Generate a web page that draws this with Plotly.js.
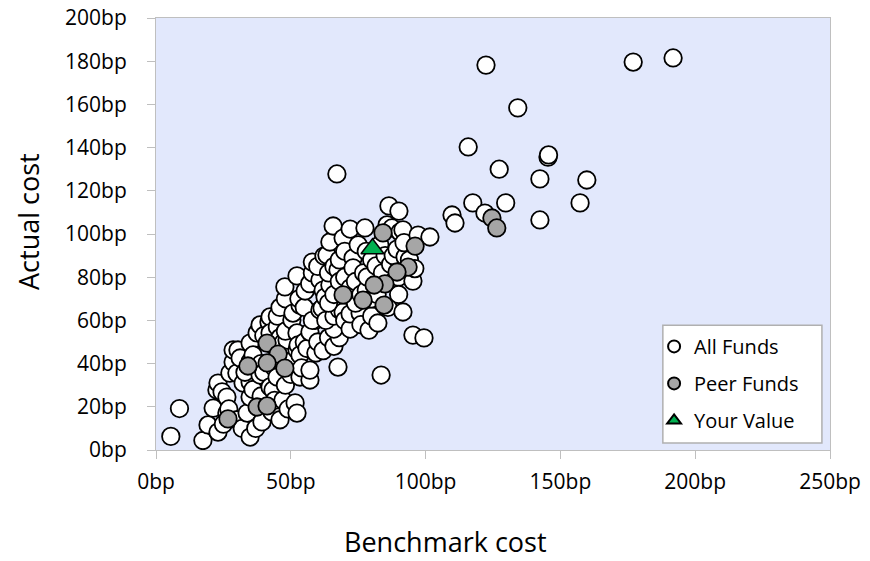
<!DOCTYPE html>
<html>
<head>
<meta charset="utf-8">
<script src="https://cdn.plot.ly/plotly-3.0.1.min.js"></script>
<style>html,body{margin:0;padding:0;background:#fff;}#chart{width:870px;height:561px;}</style>
</head>
<body>
<div id="chart"></div>
<script>
// All Funds (benchmark cost, actual cost) in bp
var allX = [5.5,8.7,17.4,19.3,21.2,23,22.6,23,24.5,26.3,26.3,25,27.4,27,28.6,28.6,30,30.4,31.2,32.3,30,32,33.8,34.9,34.9,34.9,34.9,33,35,36,36,37,37.5,38.6,38.6,39.3,39,39,40,40,41.9,42.3,42.3,42.3,43,43.4,44,44,44,44.9,45,45,46,46,46,46,47.1,47.1,48,48.6,48.6,48,48,49,49.7,50,50.4,50.8,51.6,51,52.3,52.3,52.3,52.7,53.4,53.4,53.4,53,54,55,55,56,57.1,57.1,57.1,59,58,59.3,60,60.8,61.6,62,64,66,67.5,68,66,63,66,68,69.4,70,72,72,75.7,76,79,80,82.3,86,91.6,95.3,99.4,83.5,
47.8,52.3,55.3,57,58,58,60.8,60,62,62.7,62.3,64,64.5,64,63.4,64.5,65.7,66,66,67.5,68,68,69.4,70,70,72,72,73.1,73.1,74,74,75,76,77,77.5,78,78,78.3,80,80,81.6,82,83,84,85,85.7,86.4,87.5,87,88,88,89.4,90,90,90.1,90.5,91.6,92.4,92,94,95.3,96,97.2,101.6,67.1,
109.8,110.9,117.5,122,129.7,142.4,157.3,142.4,159.8,127.3,145.4,145.6,115.8,134.2,122.4,177,191.8];
var allY = [6.3,19.2,4.4,11.6,19.4,8.3,27.8,31,26.9,24.5,17.1,12,35.6,19,40.7,46.3,35.6,46.3,42.6,31,14,10,17.1,24.5,31.5,49.5,6,36,41,44,28,10,54.2,34.7,57.9,13,25,40,53,36,59.3,29.2,61.6,54.2,17.6,27.8,23,38,48,33.8,57,62,14,42,52,66,23.1,49.5,30,44.9,50.9,55,70,19,40.3,35,60.2,63.4,21.8,42,17.1,46.3,54.2,48.6,33.8,44,67.1,70,38,50,66,47,32.4,37,54.6,60,60,44.9,50,64.8,65.7,46,52,48,38.4,52,56,60,62,65,63.9,60,56,63,63.4,58,55.5,62,58.8,66,63.9,53.2,51.9,34.7,
75.5,80.6,73.6,77,82,87,78.7,85,74,70.8,89.8,68,76.4,82,90.3,96.3,103.7,72,85,83.3,78,88,98.1,80,92,75,102.3,88.9,84.3,68,78,95,72,82,102.8,74,92,80.1,70,88,85.2,72,95,82,90,104.2,113,102.8,86,78,90,93,80,72,110.6,100.9,101.9,89.4,96,88,78.2,84,99.5,98.6,127.8,
108.8,105.1,114.4,109.7,114.4,106.5,114.4,125.5,125,130,135.6,136.6,140.3,158.4,178.2,179.6,181.5];

// Peer Funds
var peerX = [41.2,45.3,34.1,41.2,47.8,37.5,41.2,26.7,84.2,96.1,93.5,89.4,84.9,80.9,76.8,84.6,69.4,124.6,126.4];
var peerY = [49.5,44.4,38.9,40.3,37.9,19.9,20.4,14.4,100.5,94.4,84.7,82.4,76.9,76.4,69.4,67.1,71.8,107.4,102.8];

// Your Value
var yourX = [80.3];
var yourY = [93.2];

var xTicks = [0,50,100,150,200,250];
var yTicks = [0,20,40,60,80,100,120,140,160,180,200];
var xTitle = 'Benchmark cost';
var yTitle = 'Actual cost';

var FONT = 'Open Sans, sans-serif';

var traces = [
  {type:'scatter', mode:'markers', name:'All Funds', x:allX, y:allY, legendgroup:'a',
   marker:{symbol:'circle', size:17.5, color:'#FFFFFF', line:{color:'#000000', width:1.8}}},
  {type:'scatter', mode:'markers', name:'Peer Funds', x:peerX, y:peerY, legendgroup:'b',
   marker:{symbol:'circle', size:17.5, color:'#A6A6A6', line:{color:'#000000', width:1.8}}},
  {type:'scatter', mode:'markers', name:'Your Value', x:yourX, y:yourY, legendgroup:'c',
   marker:{symbol:'triangle-up', size:20, color:'#00B050', line:{color:'#000000', width:1.5}}}
];

var layout = {
  width:870, height:561,
  margin:{l:156, r:40, t:18, b:111, pad:0},
  paper_bgcolor:'#FFFFFF',
  plot_bgcolor:'#E2E8FC',
  font:{family:FONT, color:'#000000'},
  showlegend:true,
  legend:{x:0.739, y:0.285, xanchor:'left', yanchor:'top', bgcolor:'rgba(0,0,0,0)', borderwidth:0,
          font:{family:FONT, size:20, color:'#000000'}, itemsizing:'constant', tracegroupgap:8, traceorder:'grouped'},
  xaxis:{range:[0,250], tickvals:xTicks, ticktext:xTicks.map(function(v){return v+'bp';}),
         ticks:'outside', ticklen:8, tickcolor:'#BFBFBF', tickwidth:1,
         showline:true, linecolor:'#BFBFBF', linewidth:1, mirror:true,
         showgrid:false, zeroline:false, ticklabelstandoff:5,
         tickfont:{family:FONT, size:21, color:'#000000'}},
  yaxis:{range:[0,200], tickvals:yTicks, ticktext:yTicks.map(function(v){return v+'bp';}),
         ticks:'outside', ticklen:8, tickcolor:'#BFBFBF', tickwidth:1,
         showline:true, linecolor:'#BFBFBF', linewidth:1, mirror:true,
         showgrid:false, zeroline:false, ticklabelstandoff:16,
         tickfont:{family:FONT, size:21, color:'#000000'}},
  annotations:[
    {text:xTitle, xref:'paper', yref:'paper', x:0.429, y:-0.211, xanchor:'center', yanchor:'middle', showarrow:false,
     font:{family:FONT, size:27, color:'#000000'}},
    {text:yTitle, xref:'paper', yref:'paper', x:-0.19, y:0.53, xanchor:'center', yanchor:'middle', showarrow:false, textangle:-90,
     font:{family:FONT, size:27, color:'#000000'}}
  ],
  shapes:[{type:'rect', xref:'paper', yref:'paper', x0:0.752, x1:0.988, y0:0.016, y1:0.289,
           line:{color:'#B0B0B0', width:1.5}, fillcolor:'#FFFFFF', layer:'below'}]
};

Plotly.newPlot('chart', traces, layout, {displayModeBar:false, staticPlot:true});
</script>
</body>
</html>
